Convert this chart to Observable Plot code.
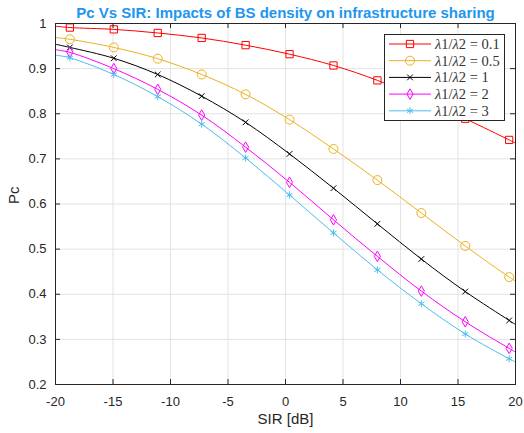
<!DOCTYPE html>
<html><head><meta charset="utf-8">
<script src="https://cdn.jsdelivr.net/npm/d3@7"></script>
<script src="https://cdn.jsdelivr.net/npm/@observablehq/plot@0.6"></script>
<style>
body{margin:0;background:#fff;}
#wrap{position:relative;width:524px;height:433px;}
#legend{position:absolute;left:384px;top:34px;}
</style></head><body><div id="wrap"></div>
<script>
// SIR [dB] sample points (first/last are the curve ends, the rest carry markers)
const sir = [-20, -18.75, -14.93, -11.11, -7.29, -3.47, 0.35, 4.17, 7.99, 11.81, 15.63, 19.45, 20];
const seriesNames = ["λ1/λ2 = 0.1", "λ1/λ2 = 0.5", "λ1/λ2 = 1", "λ1/λ2 = 2", "λ1/λ2 = 3"];
const pc01 = [0.994, 0.991, 0.987, 0.979, 0.968, 0.952, 0.932, 0.907, 0.874, 0.833, 0.789, 0.742, 0.735];
const pc05 = [0.969, 0.965, 0.947, 0.922, 0.887, 0.843, 0.787, 0.722, 0.653, 0.580, 0.507, 0.438, 0.429];
const pc1  = [0.954, 0.947, 0.923, 0.887, 0.839, 0.781, 0.711, 0.635, 0.556, 0.478, 0.406, 0.342, 0.333];
const pc2  = [0.942, 0.936, 0.900, 0.854, 0.797, 0.726, 0.648, 0.565, 0.484, 0.407, 0.339, 0.280, 0.272];
const pc3  = [0.930, 0.924, 0.887, 0.838, 0.777, 0.702, 0.620, 0.536, 0.454, 0.379, 0.312, 0.257, 0.250];
const xTicks = [-20, -15, -10, -5, 0, 5, 10, 15, 20];
const yTicks = [0.2, 0.3, 0.4, 0.5, 0.6, 0.7, 0.8, 0.9, 1];
const colors = ["#ff0000", "#edb120", "#000000", "#ff00ff", "#4dbeee"];
const symbols = ["square", "circle", "times", "diamond", "asterisk"];
const markerR = [4.1, 4.5, 2.7, 3.2, 3.3];
const titleText = "Pc Vs SIR: Impacts of BS density on infrastructure sharing";

const allPc = [pc01, pc05, pc1, pc2, pc3];
const rows = [];
allPc.forEach((arr, s) => arr.forEach((v, i) => rows.push({
  sir: sir[i], pc: v, series: seriesNames[s], marker: i > 0 && i < arr.length - 1
})));

const W = 524, H = 433, mL = 55, mR = 9, mT = 23, mB = 49;
const fw = W - mL - mR, fh = H - mT - mB;
const axisColor = "#262626";
const font = "'Liberation Sans', Arial, Helvetica, sans-serif";

const chart = Plot.plot({
  width: W, height: H,
  marginLeft: mL, marginRight: mR, marginTop: mT, marginBottom: mB,
  style: {fontFamily: font, background: "#fff", color: axisColor},
  x: {domain: [-20, 20]},
  y: {domain: [0.2, 1]},
  color: {domain: seriesNames, range: colors},
  symbol: {domain: seriesNames, range: symbols},
  marks: [
    Plot.gridX(xTicks, {stroke: "#e3e3e3", strokeOpacity: 1}),
    Plot.gridY(yTicks, {stroke: "#e3e3e3", strokeOpacity: 1}),
    Plot.line(rows, {x: "sir", y: "pc", z: "series", stroke: "series", curve: "catmull-rom", strokeWidth: 1}),
    ...seriesNames.map((name, s) =>
      Plot.dot(rows.filter(d => d.marker && d.series === name), {x: "sir", y: "pc", stroke: "series", symbol: "series", fill: "none", r: markerR[s], strokeWidth: 1})),
    Plot.tickX(xTicks, {x: d => d, insetTop: fh - 5, stroke: axisColor}),
    Plot.tickX(xTicks, {x: d => d, insetBottom: fh - 5, stroke: axisColor}),
    Plot.tickY(yTicks, {y: d => d, insetRight: fw - 5, stroke: axisColor}),
    Plot.tickY(yTicks, {y: d => d, insetLeft: fw - 5, stroke: axisColor}),
    Plot.frame({stroke: axisColor}),
    Plot.axisX(xTicks, {tickSize: 0, tickPadding: 12, fontSize: 13, label: null, tickFormat: d => String(d), fill: axisColor}),
    Plot.axisY(yTicks, {tickSize: 0, tickPadding: 9, fontSize: 13, label: null, tickFormat: d => d === 1 ? "1" : d.toFixed(1), fill: axisColor}),
    Plot.text(["SIR [dB]"], {frameAnchor: "bottom", dy: 39, text: d => d, fontSize: 15, fill: axisColor}),
    Plot.text(["Pc"], {frameAnchor: "left", dx: -41, text: d => d, rotate: -90, fontSize: 15, fill: axisColor}),
    Plot.text([titleText], {frameAnchor: "top", dy: -16, text: d => d, fontSize: 15, fontWeight: "bold", fill: "#2196f0"})
  ]
});
const wrap = document.getElementById("wrap");
wrap.appendChild(chart);

// Legend inside the axes (top right)
const lw = 121, lh = 87, rowH = 16.7;
const leg = d3.create("svg").attr("id", "legend").attr("width", lw).attr("height", lh);
leg.append("rect").attr("x", 0.5).attr("y", 0.5).attr("width", lw - 1).attr("height", lh - 1)
  .attr("fill", "#fff").attr("stroke", "#262626");
const d3sym = {square: d3.symbolSquare, circle: d3.symbolCircle, times: d3.symbolTimes, diamond: d3.symbolDiamond, asterisk: d3.symbolAsterisk};
seriesNames.forEach((name, i) => {
  const y = 10 + i * rowH;
  const g = leg.append("g");
  g.append("line").attr("x1", 5).attr("x2", 47).attr("y1", y).attr("y2", y).attr("stroke", colors[i]).attr("stroke-width", 1);
  g.append("path").attr("transform", `translate(26,${y})`)
    .attr("d", d3.symbol(d3sym[symbols[i]], Math.PI * markerR[i] * markerR[i])())
    .attr("fill", "none").attr("stroke", colors[i]).attr("stroke-width", 1);
  const [lhs, rhs] = name.split(" = ");
  const t = g.append("text").attr("x", 51).attr("y", y).attr("dy", "0.35em")
    .attr("font-family", "'Liberation Serif', 'DejaVu Serif', serif").attr("font-size", 14.5)
    .attr("font-weight", 400).attr("fill", "#333");
  // λ italic, digits upright (math style)
  lhs.split(/(λ)/).filter(p => p).forEach(p => {
    const sp = t.append("tspan").text(p);
    if (p === "λ") sp.attr("font-style", "italic");
  });
  t.append("tspan").text(" = " + rhs);
});
wrap.appendChild(leg.node());
</script></body></html>
